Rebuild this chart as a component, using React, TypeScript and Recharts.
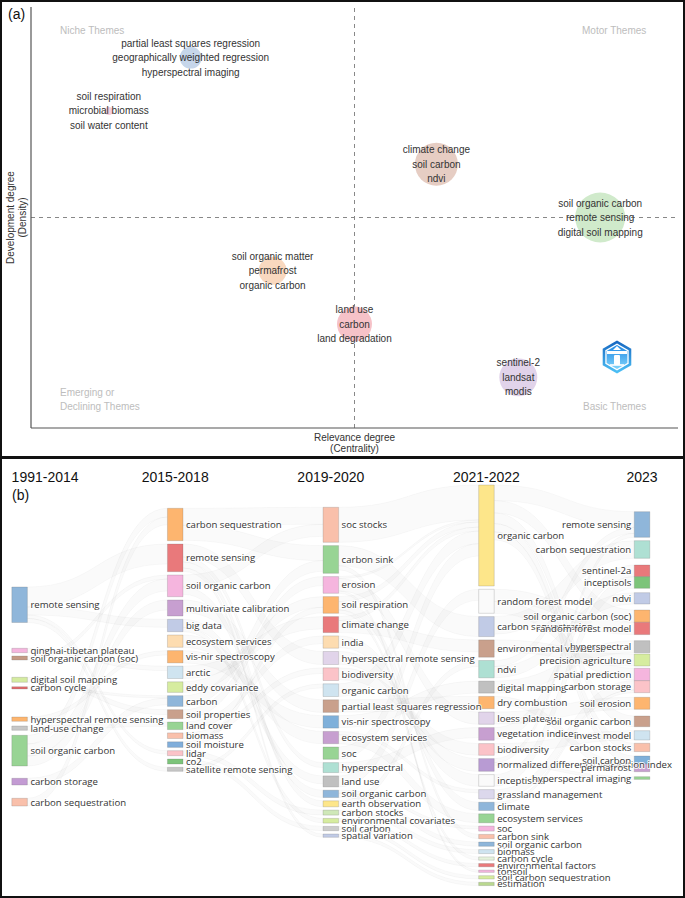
import React from 'react';
import {
  ScatterChart,
  ComposedChart,
  Scatter,
  Area,
  XAxis,
  YAxis,
  ZAxis,
  ReferenceLine,
  ReferenceArea,
  ReferenceDot,
} from 'recharts';

const FONT_A = "'Liberation Sans', Arial, sans-serif";
const FONT_B = "'Open Sans', sans-serif";

// ---------- (a) thematic map: rank centrality x rank density ----------
const THEME_KEYWORDS = [
  ['soil respiration', 'microbial biomass', 'soil water content'],
  ['partial least squares regression', 'geographically weighted regression', 'hyperspectral imaging'],
  ['soil organic matter', 'permafrost', 'organic carbon'],
  ['land use', 'carbon', 'land degradation'],
  ['climate change', 'soil carbon', 'ndvi'],
  ['sentinel-2', 'landsat', 'modis'],
  ['soil organic carbon', 'remote sensing', 'digital soil mapping'],
];
const THEME_CENTRALITY = [1, 2, 3, 4, 5, 6, 7];
const THEME_DENSITY = [6, 7, 3, 2, 5, 1, 4];
const THEME_FREQ = [8, 60, 98, 153, 231, 180, 312];
const THEME_COLORS = ['#f5cfdc', '#c6d6ea', '#f9d8bf', '#f6c2c8', '#e6cdc3', '#e1d3ea', '#d0eacb'];

const MAP_DOMAIN = [0.05, 7.95];
const MAP_MID = 4;

const QUADRANT_NOTES = [
  { x: 0.404, y: 7.519, lines: ['Niche Themes'] },
  { x: 6.778, y: 7.519, lines: ['Motor Themes'] },
  { x: 0.404, y: 0.726, lines: ['Emerging or', 'Declining Themes'] },
  { x: 6.79, y: 0.463, lines: ['Basic Themes'] },
];

const THEMES = THEME_CENTRALITY.map((x, i) => ({
  x,
  y: THEME_DENSITY[i],
  freq: THEME_FREQ[i],
  terms: THEME_KEYWORDS[i],
  color: THEME_COLORS[i],
}));

// ---------- (b) thematic evolution ----------
const PERIODS = ['1991-2014', '2015-2018', '2019-2020', '2021-2022', '2023'];

const TERMS_1991 = ['remote sensing', 'qinghai-tibetan plateau', 'soil organic carbon (soc)', 'digital soil mapping', 'carbon cycle', 'hyperspectral remote sensing', 'land-use change', 'soil organic carbon', 'carbon storage', 'carbon sequestration'];
const WEIGHT_1991 = [35.5, 4.4, 4, 5, 2.3, 4.3, 4.3, 30.7, 6.7, 7.7];
const COLORS_1991 = ['#8fb6da', '#f5b5de', '#c49a85', '#d4eba0', '#e06a6c', '#fdb56f', '#c7c7c7', '#98d494', '#c39bd3', '#f9c0ab'];

const TERMS_2015 = ['carbon sequestration', 'remote sensing', 'soil organic carbon', 'multivariate calibration', 'big data', 'ecosystem services', 'vis-nir spectroscopy', 'arctic', 'eddy covariance', 'carbon', 'soil properties', 'land cover', 'biomass', 'soil moisture', 'lidar', 'co2', 'satellite remote sensing'];
const WEIGHT_2015 = [32.4, 27.7, 21.7, 16, 12.4, 12.3, 12.3, 12.3, 10.6, 10.7, 9, 7.6, 5.6, 5.6, 5, 5, 4];
const COLORS_2015 = ['#fdb56f', '#e9797b', '#f5b5de', '#c79fd0', '#c1cbe6', '#fddcb0', '#fdb56f', '#cfe4f0', '#d6ec9f', '#8fb6da', '#c9a08c', '#98d494', '#f9c0ab', '#80aedb', '#fbc3c8', '#7cc47a', '#c7c7c7'];

const TERMS_2019 = ['soc stocks', 'carbon sink', 'erosion', 'soil respiration', 'climate change', 'india', 'hyperspectral remote sensing', 'biodiversity', 'organic carbon', 'partial least squares regression', 'vis-nir spectroscopy', 'ecosystem services', 'soc', 'hyperspectral', 'land use', 'soil organic carbon', 'earth observation', 'carbon stocks', 'environmental covariates', 'soil carbon', 'spatial variation'];
const WEIGHT_2019 = [35, 27.7, 16.7, 16.7, 16, 12.3, 13, 12.7, 12.7, 12.6, 12.4, 12.3, 12.3, 10, 11, 7.3, 6, 5, 4.7, 4.3, 3.3];
const COLORS_2019 = ['#f9c0ab', '#98d494', '#f5b5de', '#fdb56f', '#e9797b', '#fddcb0', '#e1d4ea', '#fbc3c8', '#cfe4f0', '#c9a08c', '#7fb0da', '#c79fd0', '#98d494', '#aee0d3', '#c0c0c0', '#8fb6da', '#fde68a', '#cfe8b8', '#d6ec9f', '#cccccc', '#c1cbe6'];

const TERMS_2021 = ['organic carbon', 'random forest model', 'carbon sequestration', 'environmental variables', 'ndvi', 'digital mapping', 'dry combustion', 'loess plateau', 'vegetation indices', 'biodiversity', 'normalized difference vegetation index', 'inceptisols', 'grassland management', 'climate', 'ecosystem services', 'soc', 'carbon sink', 'soil organic carbon', 'biomass', 'carbon cycle', 'environmental factors', 'tonsoil', 'soil carbon sequestration', 'estimation'];
const WEIGHT_2021 = [101, 24, 20, 17.3, 17.3, 12, 12.3, 12.3, 12.7, 11.7, 12.7, 11.7, 9.3, 8.3, 9, 5, 4.3, 4.3, 4, 3.3, 3.3, 2.3, 3.3, 3.3];
const COLORS_2021 = ['#fde68a', '#fafafa', '#c1cbe6', '#c9a08c', '#aee0d3', '#c0c0c0', '#fdb56f', '#e1d4ea', '#c79fd0', '#fbc3c8', '#b89bd3', '#fafafa', '#dcd8ec', '#8fb6da', '#98d494', '#f5b5de', '#f9c0ab', '#8fb6da', '#cfe4f0', '#e5f2dc', '#e9797b', '#f5b5de', '#d6ec9f', '#b9d88f'];

const TERMS_2023 = ['remote sensing', 'carbon sequestration', 'sentinel-2a', 'inceptisols', 'ndvi', 'soil organic carbon (soc)', 'random forest model', 'hyperspectral', 'precision agriculture', 'spatial prediction', 'carbon storage', 'soil erosion', 'soil organic carbon', 'invest model', 'carbon stocks', 'soil carbon', 'permafrost', 'hyperspectral imaging'];
const WEIGHT_2023 = [25.6, 17.6, 11.7, 11.6, 11.3, 12.3, 12.3, 12, 12, 12.3, 12, 12, 10.7, 9.3, 8.3, 8, 7.7, 2.7];
const COLORS_2023 = ['#8fb6da', '#aee0d3', '#e9797b', '#7cc47a', '#c1cbe6', '#fdb56f', '#e9797b', '#c0c0c0', '#d6ec9f', '#f5b5de', '#fbc3c8', '#fdb56f', '#c9a08c', '#cfe4f0', '#f9c0ab', '#7fb0da', '#c79fd0', '#98d494'];

// links: [source term index, target term index, weight]
const LINKS_1991_2015 = [
  [0, 1, 20], [0, 4, 8], [0, 14, 3.5], [0, 16, 4],
  [1, 7, 4.4], [2, 2, 4], [3, 10, 5], [4, 9, 2.3], [5, 6, 4.3], [6, 11, 4.3],
  [7, 0, 8.7], [7, 2, 12], [7, 3, 10], [8, 9, 6.7], [9, 0, 7.7],
];
const LINKS_2015_2019 = [
  [0, 0, 17], [0, 1, 15], [1, 6, 13], [1, 13, 5], [1, 16, 6], [1, 20, 3.3],
  [2, 0, 12], [2, 15, 7.3], [3, 9, 12.6], [4, 14, 8], [4, 18, 4.4], [5, 11, 12.3],
  [6, 10, 12.3], [7, 4, 12.3], [8, 3, 10.6], [9, 1, 10.7], [10, 2, 9], [11, 5, 7.6],
  [12, 7, 5.6], [13, 3, 5.6], [14, 17, 5], [15, 19, 4.3], [16, 8, 4],
];
const LINKS_2019_2021 = [
  [0, 0, 35], [1, 2, 20], [1, 16, 4.3], [2, 0, 2], [2, 7, 12.3], [2, 21, 2.3],
  [3, 0, 5], [3, 13, 8.3], [3, 19, 3.3], [4, 0, 4], [4, 3, 12], [5, 11, 11.7],
  [6, 10, 12.7], [7, 9, 11.7], [8, 0, 12.7], [9, 6, 12.3], [10, 5, 12],
  [11, 12, 3.3], [11, 14, 9], [12, 0, 12.3], [13, 8, 10], [14, 1, 11],
  [15, 15, 3], [15, 17, 4.3], [16, 4, 6], [17, 18, 4], [18, 20, 3.3], [19, 22, 3.3], [20, 23, 3.3],
];
const LINKS_2021_2023 = [
  [0, 0, 15.6], [0, 5, 12.3], [0, 12, 10.7], [0, 14, 8.3], [0, 15, 8],
  [1, 6, 12.3], [1, 9, 11.7], [2, 1, 17.6], [3, 8, 12], [4, 0, 6], [4, 4, 11.3],
  [5, 7, 12], [6, 16, 7.7], [7, 11, 12], [8, 2, 11.7], [9, 13, 9.3],
  [10, 0, 4], [10, 17, 2.7], [11, 3, 11.6], [12, 10, 9.3], [13, 10, 2.7],
];

// layout of the node columns (y units = px of the lower panel)
const NODE_PAD = 3.3;
const HALF_NODE = 0.05;
const HEADER_Y = 17;
const GAPS_1991 = [127, 25.8, 3.3, 17.3, 4.4, 28, 4.7, 5, 12.3, 13.3];
const GAPS_2023 = [51.7, 3.4, 6.7, 0, 4.4, 6, 0, 6.1, 1.3, 2.3, 0.1, 4.6, 6.7, 4, 3.3, 4.4, 0, 5];
const X_DOMAIN_B = [-0.126, 4.276];
const Y_DOMAIN_B = [0, 438];

const PERIOD_COLUMNS: any[] = [
  { terms: TERMS_1991, weights: WEIGHT_1991, colors: COLORS_1991, gaps: GAPS_1991 },
  { terms: TERMS_2015, weights: WEIGHT_2015, colors: COLORS_2015, top: 48.3 },
  { terms: TERMS_2019, weights: WEIGHT_2019, colors: COLORS_2019, top: 47.3 },
  { terms: TERMS_2021, weights: WEIGHT_2021, colors: COLORS_2021, top: 25 },
  { terms: TERMS_2023, weights: WEIGHT_2023, colors: COLORS_2023, gaps: GAPS_2023 },
];
const LINKS = [LINKS_1991_2015, LINKS_2015_2019, LINKS_2019_2021, LINKS_2021_2023];

const NODES = PERIOD_COLUMNS.map((col, c) => {
  let y = 0;
  return col.terms.map((name: string, i: number) => {
    y += col.gaps ? col.gaps[i] : i === 0 ? col.top : NODE_PAD;
    const node = { col: c, idx: i, name, color: col.colors[i], y0: y, y1: y + col.weights[i] };
    y = node.y1;
    return node;
  });
});

const BANDS = (() => {
  const bands: any[] = [];
  LINKS.forEach((list, c) => {
    const outCursor = NODES[c].map((n: any) => n.y0);
    const inCursor = NODES[c + 1].map((n: any) => n.y0);
    const srcY: number[] = [];
    const tgtY: number[] = [];
    const order = list.map((_, k) => k);
    [...order]
      .sort((a, b) => list[a][0] - list[b][0] || list[a][1] - list[b][1])
      .forEach((k) => {
        srcY[k] = outCursor[list[k][0]];
        outCursor[list[k][0]] += list[k][2];
      });
    [...order]
      .sort((a, b) => list[a][1] - list[b][1] || list[a][0] - list[b][0])
      .forEach((k) => {
        tgtY[k] = inCursor[list[k][1]];
        inCursor[list[k][1]] += list[k][2];
      });
    list.forEach(([, , w], k) => {
      bands.push({
        key: `${c}-${k}`,
        points: [
          { x: c + HALF_NODE, band: [srcY[k], srcY[k] + w] },
          { x: c + 1 - HALF_NODE, band: [tgtY[k], tgtY[k] + w] },
        ],
      });
    });
  });
  return bands;
})();

// ---------- shapes ----------
const Bubble = (props: any) => {
  const { cx, cy, payload } = props;
  const r = props.width ? props.width / 2 : Math.sqrt((props.size || 0) / Math.PI);
  return (
    <g>
      <circle cx={cx} cy={cy} r={r} fill={payload.color} />
      {payload.terms.map((t: string, k: number) => (
        <text
          key={k}
          x={cx}
          y={cy + (k - 1) * 14.5}
          textAnchor="middle"
          dominantBaseline="central"
          fontSize={10}
          fontFamily={FONT_A}
          fill="#333"
        >
          {t}
        </text>
      ))}
    </g>
  );
};

const quadrantShape = (lines: string[]) => (p: any) => (
  <text x={p.cx} y={p.cy} fontSize={10} fontFamily={FONT_A} fill="#bdbdbd" dominantBaseline="central">
    {lines.map((l, k) => (
      <tspan key={k} x={p.cx} dy={k === 0 ? 0 : 14}>
        {l}
      </tspan>
    ))}
  </text>
);

const Logo = (p: any) => {
  const { cx, cy } = p;
  const hex = (R: number) =>
    [0, 1, 2, 3, 4, 5]
      .map((k) => {
        const a = (Math.PI / 180) * (60 * k - 90);
        return `${cx + R * Math.cos(a)},${cy + R * Math.sin(a)}`;
      })
      .join(' ');
  return (
    <g>
      <defs>
        <linearGradient id="logoOuter" x1="0" y1="0" x2="0" y2="1">
          <stop offset="0" stopColor="#1565c0" />
          <stop offset="1" stopColor="#4fc3f7" />
        </linearGradient>
        <linearGradient id="logoInner" x1="0" y1="0" x2="0" y2="1">
          <stop offset="0" stopColor="#1e88e5" />
          <stop offset="1" stopColor="#81d4fa" />
        </linearGradient>
      </defs>
      <polygon points={hex(16.5)} fill="url(#logoOuter)" />
      <polygon points={hex(13.5)} fill="#ffffff" />
      <polygon points={hex(12)} fill="url(#logoInner)" />
      <polygon points={`${cx - 4},${cy - 7} ${cx},${cy - 11} ${cx + 4},${cy - 7}`} fill="#fff" />
      <rect x={cx - 10} y={cy - 6} width={20} height={3} fill="#fff" />
      <rect x={cx - 3} y={cy - 2} width={6} height={10} rx={1} fill="#fff" />
      <rect x={cx - 7} y={cy + 7} width={14} height={2} fill="#fff" opacity={0.8} />
    </g>
  );
};

const XTitle = (props: any) => {
  const vb = props.viewBox || { x: 31, y: 428, width: 647, height: 30 };
  const cx = vb.x + vb.width / 2;
  return (
    <g>
      <text x={cx} y={vb.y + 9} textAnchor="middle" dominantBaseline="central" fontSize={10} fontFamily={FONT_A} fill="#333">
        Relevance degree
      </text>
      <text x={cx} y={vb.y + 20} textAnchor="middle" dominantBaseline="central" fontSize={10} fontFamily={FONT_A} fill="#333">
        (Centrality)
      </text>
    </g>
  );
};

const YTitle = (props: any) => {
  const vb = props.viewBox || { x: 0, y: 7, width: 31, height: 421 };
  const cy = vb.y + vb.height / 2;
  return (
    <g>
      <text x={10} y={cy} transform={`rotate(-90, 10, ${cy})`} textAnchor="middle" dominantBaseline="central" fontSize={10} fontFamily={FONT_A} fill="#333">
        Development degree
      </text>
      <text x={22} y={cy} transform={`rotate(-90, 22, ${cy})`} textAnchor="middle" dominantBaseline="central" fontSize={10} fontFamily={FONT_A} fill="#333">
        (Density)
      </text>
    </g>
  );
};

const nodeLabel = (name: string, left: boolean) => (p: any) => (
  <text
    x={left ? p.cx - 3 : p.cx + 3}
    y={p.cy}
    textAnchor={left ? 'end' : 'start'}
    dominantBaseline="central"
    fontSize={9.6}
    fontFamily={FONT_B}
    fill="#333"
    stroke="#fff"
    strokeWidth={2}
    strokeOpacity={0.85}
    strokeLinejoin="round"
    paintOrder="stroke"
  >
    {name}
  </text>
);

const headerShape = (label: string, first: boolean) => (p: any) => (
  <text
    x={first ? p.cx - 8 : p.cx}
    y={p.cy}
    textAnchor={first ? 'start' : 'middle'}
    dominantBaseline="central"
    fontSize={14}
    fontFamily={FONT_A}
    fill="#111"
  >
    {label}
  </text>
);

const axisLineStyle = { stroke: '#555', strokeWidth: 1.2 };

export default function App() {
  const allNodes = NODES.flat();
  return (
    <div style={{ position: 'relative', width: 685, height: 898, background: '#fff', overflow: 'hidden' }}>
      <style>{'body{margin:0}'}</style>

      <div style={{ position: 'absolute', left: 0, top: 0 }}>
        <ScatterChart width={685} height={458} margin={{ top: 7, right: 7, bottom: 0, left: 0 }}>
          <XAxis
            type="number"
            dataKey="x"
            domain={MAP_DOMAIN}
            allowDataOverflow
            tick={false}
            tickLine={false}
            axisLine={axisLineStyle}
            height={30}
            label={XTitle}
          />
          <YAxis
            type="number"
            dataKey="y"
            domain={MAP_DOMAIN}
            allowDataOverflow
            tick={false}
            tickLine={false}
            axisLine={axisLineStyle}
            width={31}
            label={YTitle}
          />
          <ZAxis type="number" dataKey="freq" domain={[0, 312]} range={[0, 1963]} />
          <Scatter data={THEMES} shape={Bubble} isAnimationActive={false} />
          <ReferenceLine x={MAP_MID} stroke="#888" strokeDasharray="4 4" />
          <ReferenceLine y={MAP_MID} stroke="#888" strokeDasharray="4 4" />
          {QUADRANT_NOTES.map((q, i) => (
            <ReferenceDot key={i} x={q.x} y={q.y} r={0} shape={quadrantShape(q.lines)} />
          ))}
          <ReferenceDot x={7.205} y={1.382} r={0} shape={Logo} />
        </ScatterChart>
      </div>

      <div style={{ position: 'absolute', left: 0, top: 460 }}>
        <ComposedChart width={685} height={438} margin={{ top: 0, right: 0, bottom: 0, left: 0 }}>
          <XAxis type="number" dataKey="x" domain={X_DOMAIN_B} allowDataOverflow hide />
          <YAxis type="number" domain={Y_DOMAIN_B} allowDataOverflow reversed hide />
          {BANDS.map((b) => (
            <Area
              key={b.key}
              data={b.points}
              dataKey="band"
              type="bumpX"
              fill="#000"
              fillOpacity={0.018}
              stroke="#000"
              strokeOpacity={0.05}
              strokeWidth={0.6}
              dot={false}
              activeDot={false}
              isAnimationActive={false}
            />
          ))}
          {allNodes.map((n: any) => (
            <ReferenceArea
              key={`n${n.col}-${n.idx}`}
              x1={n.col - HALF_NODE}
              x2={n.col + HALF_NODE}
              y1={n.y0}
              y2={n.y1}
              fill={n.color}
              fillOpacity={1}
              stroke="#666"
              strokeOpacity={0.45}
              strokeWidth={0.5}
            />
          ))}
          {allNodes.map((n: any) => {
            const left = n.col === PERIODS.length - 1;
            return (
              <ReferenceDot
                key={`l${n.col}-${n.idx}`}
                x={left ? n.col - HALF_NODE : n.col + HALF_NODE}
                y={(n.y0 + n.y1) / 2}
                r={0}
                shape={nodeLabel(n.name, left)}
              />
            );
          })}
          {PERIODS.map((p, i) => (
            <ReferenceDot key={p} x={i} y={HEADER_Y} r={0} shape={headerShape(p, i === 0)} />
          ))}
        </ComposedChart>
      </div>

      <span style={{ position: 'absolute', left: 8, top: 6, fontSize: 14, lineHeight: '16px', fontFamily: FONT_A, color: '#111' }}>(a)</span>
      <span style={{ position: 'absolute', left: 12, top: 487, fontSize: 14, lineHeight: '16px', fontFamily: FONT_A, color: '#111' }}>(b)</span>

      <div style={{ position: 'absolute', left: 0, top: 0, width: 685, height: 898, boxSizing: 'border-box', border: '2px solid #111', pointerEvents: 'none' }} />
      <div style={{ position: 'absolute', left: 0, top: 456, width: 685, height: 3, background: '#111' }} />
    </div>
  );
}
